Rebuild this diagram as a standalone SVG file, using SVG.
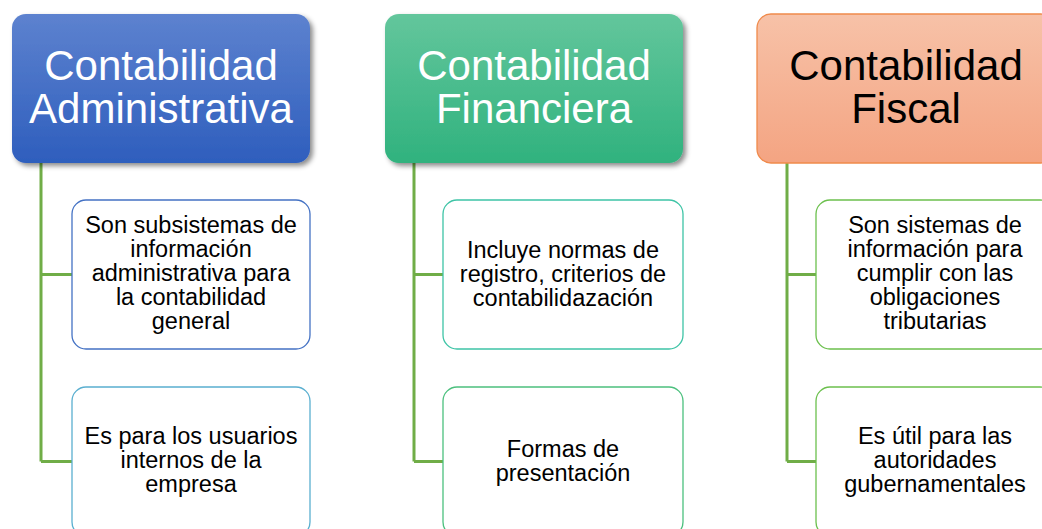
<svg xmlns="http://www.w3.org/2000/svg" width="1042" height="529" viewBox="0 0 1042 529">
  <defs>
    <linearGradient id="gBlue" x1="0" y1="0" x2="0" y2="1">
      <stop offset="0" stop-color="#5D82CF"/>
      <stop offset="1" stop-color="#2E5EBD"/>
    </linearGradient>
    <linearGradient id="gGreen" x1="0" y1="0" x2="0" y2="1">
      <stop offset="0" stop-color="#63C69C"/>
      <stop offset="1" stop-color="#30B27E"/>
    </linearGradient>
    <linearGradient id="gOrange" x1="0" y1="0" x2="0" y2="1">
      <stop offset="0" stop-color="#F7C2A8"/>
      <stop offset="1" stop-color="#F4A482"/>
    </linearGradient>
    <filter id="shadow" x="-10%" y="-10%" width="125%" height="130%">
      <feDropShadow dx="3" dy="3" stdDeviation="2.5" flood-color="#000" flood-opacity="0.45"/>
    </filter>
  </defs>
  <style>
    .hdr { font-family: "Liberation Sans", Arial, sans-serif; font-size: 42px; text-anchor: middle; }
    .w { fill: #ffffff; }
    .k { fill: #000000; }
    .ch { font-family: "Liberation Sans", Arial, sans-serif; font-size: 23.5px; text-anchor: middle; fill: #000000; }
    .box { fill: #ffffff; stroke-width: 1.3; }
    .conn { fill: none; stroke: #70AD47; stroke-width: 3; }
  </style>
  <rect width="1042" height="529" fill="#ffffff"/>

  <g id="connectors">
    <path class="conn" d="M41,163 V461.5 M41,274.5 H72 M41,461.5 H72"/>
    <path class="conn" d="M414,163 V461.5 M414,274.5 H443 M414,461.5 H443"/>
    <path class="conn" d="M787,163 V461.5 M787,274.5 H816 M787,461.5 H816"/>
  </g>

  <g id="hdr-administrativa">
    <rect x="12" y="14" width="298" height="149" rx="14" fill="url(#gBlue)" filter="url(#shadow)"/>
    <text class="hdr w" x="161" y="80">Contabilidad</text>
    <text class="hdr w" x="161" y="123">Administrativa</text>
  </g>
  <g id="hdr-financiera">
    <rect x="385" y="14" width="298" height="149" rx="14" fill="url(#gGreen)" filter="url(#shadow)"/>
    <text class="hdr w" x="534" y="80">Contabilidad</text>
    <text class="hdr w" x="534" y="123">Financiera</text>
  </g>
  <g id="hdr-fiscal">
    <rect x="757" y="14" width="298" height="149" rx="14" fill="url(#gOrange)" stroke="#F08A4B" stroke-width="1.3"/>
    <text class="hdr k" x="906" y="80">Contabilidad</text>
    <text class="hdr k" x="906" y="123">Fiscal</text>
  </g>

  <g id="adm-1">
    <rect class="box" x="72" y="200" width="238" height="149" rx="14" stroke="#4472C4"/>
    <text class="ch" x="191" y="233">Son subsistemas de</text>
    <text class="ch" x="191" y="257">información</text>
    <text class="ch" x="191" y="281">administrativa para</text>
    <text class="ch" x="191" y="305">la contabilidad</text>
    <text class="ch" x="191" y="329">general</text>
  </g>
  <g id="adm-2">
    <rect class="box" x="72" y="387" width="238" height="149" rx="14" stroke="#5AAFD0"/>
    <text class="ch" x="191" y="444">Es para los usuarios</text>
    <text class="ch" x="191" y="468">internos de la</text>
    <text class="ch" x="191" y="492">empresa</text>
  </g>

  <g id="fin-1">
    <rect class="box" x="443" y="200" width="240" height="149" rx="14" stroke="#3EC4A6"/>
    <text class="ch" x="563" y="258">Incluye normas de</text>
    <text class="ch" x="563" y="282">registro, criterios de</text>
    <text class="ch" x="563" y="306">contabilidazación</text>
  </g>
  <g id="fin-2">
    <rect class="box" x="443" y="387" width="240" height="149" rx="14" stroke="#4CC07E"/>
    <text class="ch" x="563" y="457">Formas de</text>
    <text class="ch" x="563" y="481">presentación</text>
  </g>

  <g id="fis-1">
    <rect class="box" x="816" y="200" width="238" height="149" rx="14" stroke="#6CC04E"/>
    <text class="ch" x="935" y="233">Son sistemas de</text>
    <text class="ch" x="935" y="257">información para</text>
    <text class="ch" x="935" y="281">cumplir con las</text>
    <text class="ch" x="935" y="305">obligaciones</text>
    <text class="ch" x="935" y="329">tributarias</text>
  </g>
  <g id="fis-2">
    <rect class="box" x="816" y="387" width="238" height="149" rx="14" stroke="#6CC04E"/>
    <text class="ch" x="935" y="444">Es útil para las</text>
    <text class="ch" x="935" y="468">autoridades</text>
    <text class="ch" x="935" y="492">gubernamentales</text>
  </g>
</svg>
